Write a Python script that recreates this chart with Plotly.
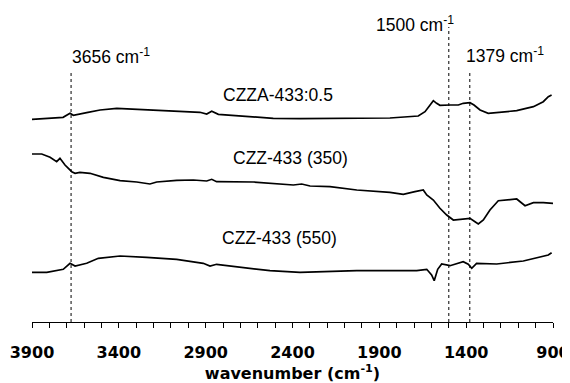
import plotly.graph_objects as go

# ---- data (wavenumber in cm^-1, absorbance in arbitrary offset units) ----
wn_czza = [3900, 3721, 3681, 3662, 3585, 3508, 3412, 3297, 3163, 3009, 2933, 2894, 2865, 2827,
           2626, 2511, 2357, 1839, 1676, 1637, 1612, 1589, 1570, 1551, 1493, 1445, 1417, 1378,
           1355, 1320, 1273, 1224, 1109, 1013, 956, 927, 908]
ab_czza = [2.027, 2.047, 2.087, 2.067, 2.093, 2.120, 2.137, 2.127, 2.110, 2.097, 2.097, 2.080,
           2.107, 2.077, 2.053, 2.037, 2.033, 2.040, 2.060, 2.103, 2.160, 2.213, 2.187, 2.167,
           2.170, 2.170, 2.187, 2.193, 2.170, 2.120, 2.087, 2.097, 2.113, 2.153, 2.203, 2.253, 2.270]

wn_czz350 = [3900, 3844, 3796, 3758, 3739, 3710, 3671, 3652, 3624, 3566, 3489, 3393, 3297, 3221,
             3182, 3067, 2971, 2894, 2865, 2837, 2626, 2472, 2395, 2347, 2299, 2184, 2030, 1839,
             1762, 1695, 1647, 1627, 1589, 1551, 1512, 1474, 1436, 1378, 1349, 1330, 1301, 1263,
             1215, 1167, 1109, 1061, 1013, 956, 900]
ab_czz350 = [1.680, 1.680, 1.647, 1.603, 1.637, 1.570, 1.503, 1.487, 1.497, 1.487, 1.447, 1.413,
             1.400, 1.380, 1.400, 1.417, 1.420, 1.410, 1.427, 1.403, 1.400, 1.380, 1.370, 1.380,
             1.360, 1.353, 1.320, 1.297, 1.277, 1.303, 1.320, 1.270, 1.220, 1.137, 1.070, 1.020,
             1.027, 1.037, 1.003, 0.980, 1.020, 1.120, 1.213, 1.220, 1.230, 1.163, 1.193, 1.193, 1.187]

wn_czz550 = [3900, 3815, 3720, 3681, 3652, 3585, 3518, 3393, 3240, 3067, 2914, 2875, 2837, 2721,
             2530, 2357, 2030, 1685, 1627, 1599, 1584, 1564, 1541, 1493, 1417, 1388, 1368, 1340,
             1224, 1071, 975, 927, 908]
ab_czz550 = [0.497, 0.497, 0.527, 0.587, 0.560, 0.587, 0.637, 0.660, 0.647, 0.627, 0.587, 0.560,
             0.577, 0.553, 0.513, 0.497, 0.513, 0.513, 0.527, 0.470, 0.413, 0.527, 0.580, 0.563,
             0.603, 0.577, 0.537, 0.587, 0.580, 0.610, 0.653, 0.670, 0.693]

series_names = ["CZZA-433:0.5", "CZZ-433 (350)", "CZZ-433 (550)"]
label_pos_wn = [2484, 2412, 2475]
label_pos_ab = [2.27, 1.64, 0.84]

marker_lines_wn = [3675, 1500, 1379]
marker_lines_top = [2.50, 2.95, 2.50]
marker_labels = ["3656 cm<sup>-1</sup>", "1500 cm<sup>-1</sup>", "1379 cm<sup>-1</sup>"]
marker_label_wn = [3680, 1930, 1412]
marker_label_ab = [2.66, 2.98, 2.67]

xtick_vals = [3900, 3400, 2900, 2400, 1900, 1400, 900]
xtick_text = [str(v) for v in xtick_vals]

FONT = "Arial, Liberation Sans, sans-serif"
AXFONT = "DejaVu Sans, sans-serif"

fig = go.Figure()
for wn, ab in [(wn_czza, ab_czza), (wn_czz350, ab_czz350), (wn_czz550, ab_czz550)]:
    fig.add_trace(go.Scatter(x=wn, y=ab, mode="lines",
                             line=dict(color="black", width=1.7), showlegend=False,
                             hoverinfo="skip"))

for name, x, y in zip(series_names, label_pos_wn, label_pos_ab):
    fig.add_annotation(x=x, y=y, text=name, showarrow=False, xanchor="center",
                       font=dict(family=FONT, size=17.5, color="black"))

for x, top in zip(marker_lines_wn, marker_lines_top):
    fig.add_shape(type="line", x0=x, x1=x, y0=0, y1=top, xref="x", yref="y",
                  line=dict(color="black", width=1, dash="dot"))

for text, x, y in zip(marker_labels, marker_label_wn, marker_label_ab):
    fig.add_annotation(x=x, y=y, text=text, showarrow=False, xanchor="left",
                       font=dict(family=FONT, size=17.5, color="black"))

# the page body has an 8px default margin, so the figure is sized to fit the window
fig.update_layout(
    width=562, height=375,
    margin=dict(l=24, r=17, t=2, b=61),
    paper_bgcolor="white", plot_bgcolor="white",
    xaxis=dict(range=[3900, 900], tickmode="array", tickvals=xtick_vals, ticktext=xtick_text,
               automargin=False, ticklabelstandoff=11,
               ticks="outside", ticklen=5, tickcolor="black", tickwidth=1,
               minor=dict(dtick=100, ticks="outside", ticklen=5, tickcolor="black", tickwidth=1),
               showline=True, linecolor="black", linewidth=1, showgrid=False, zeroline=False,
               tickfont=dict(family=AXFONT, size=16, color="black", weight="bold"),
               title=dict(text="wavenumber (cm<sup>-1</sup>)", standoff=0,
                          font=dict(family=AXFONT, size=16, color="black", weight="bold"))),
    yaxis=dict(range=[0, 3.12], visible=False, showgrid=False, zeroline=False, automargin=False),
)

fig.write_html("out.html")
